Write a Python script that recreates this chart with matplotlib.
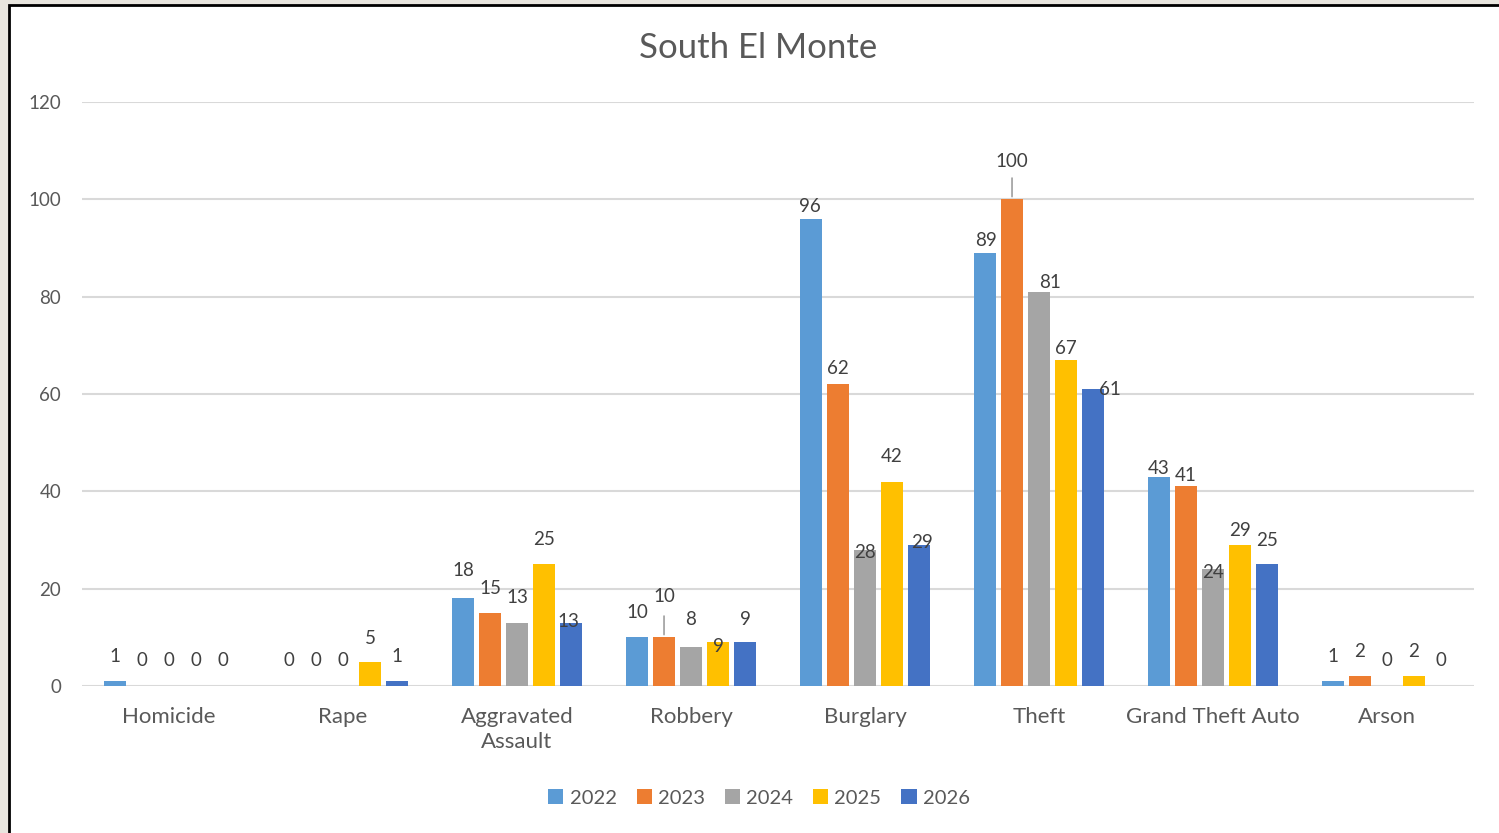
import matplotlib.pyplot as plt
from matplotlib.patches import Rectangle
import numpy as np

categories = ["Homicide", "Rape", "Aggravated\nAssault", "Robbery",
              "Burglary", "Theft", "Grand Theft Auto", "Arson"]
years = ["2022", "2023", "2024", "2025", "2026"]
y2022 = [1, 0, 18, 10, 96, 89, 43, 1]
y2023 = [0, 0, 15, 10, 62, 100, 41, 2]
y2024 = [0, 0, 13, 8, 28, 81, 24, 0]
y2025 = [0, 5, 25, 9, 42, 67, 29, 2]
y2026 = [0, 1, 13, 9, 29, 61, 25, 0]
series = [y2022, y2023, y2024, y2025, y2026]
colors = ["#5B9BD5", "#ED7D31", "#A5A5A5", "#FFC000", "#4472C4"]

# label nudges (pixels) where Excel didn't put the label straight above the bar
nudge = {
    (2, 0): (0, 28), (2, 4): (-3, 1),
    (3, 1): (0, 41), (3, 2): (0, 28), (3, 3): (0, -4), (3, 4): (0, 23),
    (4, 0): (-1, 12), (4, 1): (0, 16), (4, 2): (0, -3), (4, 4): (3, 2),
    (5, 0): (1, 12), (5, 1): (0, 38), (5, 2): (11, 9), (5, 3): (0, 11), (5, 4): (17, 0),
    (6, 0): (0, 8), (6, 1): (0, 11), (6, 2): (0, -3), (6, 3): (0, 14), (6, 4): (0, 24),
    (1, 3): (0, 23),
}
leaders = [(3, 1), (5, 1)]

plt.rcParams['font.family'] = ['Lato', 'DejaVu Sans']
txt = "#595959"

fig = plt.figure(figsize=(14.99, 8.33), dpi=100)
fig.patch.set_facecolor("#E8E5DE")
fig.patches.append(Rectangle((9 / 1499, -0.05), 1.05, (833 - 5) / 833 + 0.05,
                             transform=fig.transFigure, facecolor="white",
                             edgecolor="black", linewidth=2, zorder=-10))

ax = fig.add_axes([82 / 1499, (833 - 686) / 833, (1474 - 82) / 1499, (686 - 102) / 833])
ax.set_facecolor("none")

x = np.arange(len(categories))
width = 0.126
step = 0.155
for j, vals in enumerate(series):
    xs = x + (j - 2) * step
    ax.bar(xs, vals, width, color=colors[j], label=years[j], zorder=3)
    for i, v in enumerate(vals):
        dx, dy = nudge.get((i, j), (0, 25))
        ax.annotate(str(v), (xs[i], v), xytext=(dx, dy), textcoords="offset pixels",
                    ha="center", va="center", fontsize=13.5, color="#404040", zorder=4)
        if (i, j) in leaders:
            ax.annotate("", (xs[i], v), xytext=(0, 24), textcoords="offset pixels",
                        arrowprops=dict(arrowstyle="-", color="#A6A6A6", lw=1.3))

ax.set_xlim(-0.5, len(categories) - 0.5)
ax.set_ylim(0, 120)
ax.set_yticks(range(0, 121, 20))
ax.yaxis.grid(True, color="#D9D9D9", linewidth=1.5, zorder=0)
for s in ax.spines.values():
    s.set_visible(False)
ax.tick_params(axis="y", length=0, pad=15, labelsize=13.5, labelcolor=txt)
ax.tick_params(axis="x", length=0, pad=15, labelsize=16, labelcolor=txt)
ax.set_xticks(x)
ax.set_xticklabels(categories, linespacing=1.35)

fig.text(758 / 1499, 1 - 48 / 833, "South El Monte", ha="center", va="center",
         fontsize=25, color=txt)

fig.legend(loc="center", bbox_to_anchor=(759 / 1499, 1 - 798 / 833), ncol=5,
           frameon=False, fontsize=14.5, labelcolor=txt, handlelength=0.75,
           handleheight=0.75, handletextpad=0.3, columnspacing=1.0)

fig.savefig("out.png", dpi=100, facecolor=fig.get_facecolor())
